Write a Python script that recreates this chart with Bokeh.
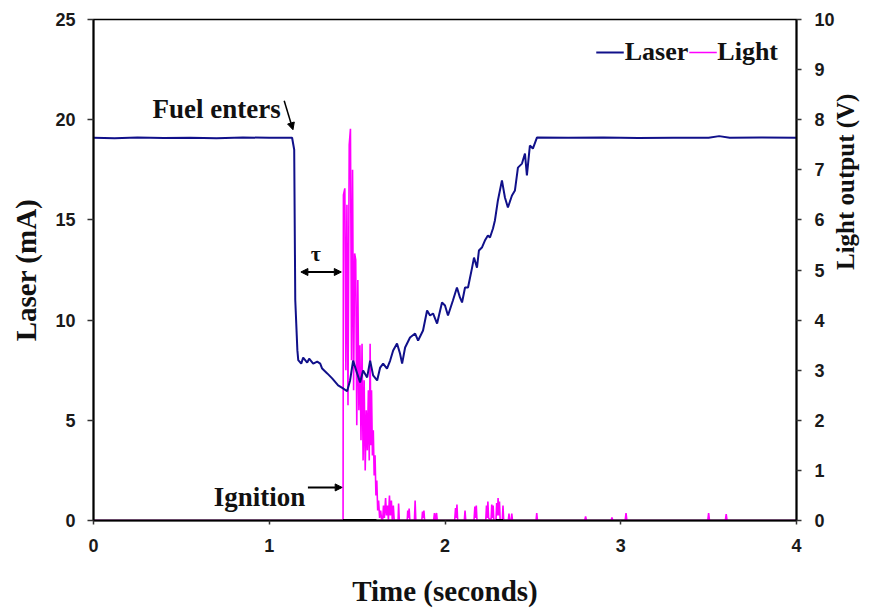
import math
from bokeh.plotting import figure
from bokeh.models import (Range1d, LinearAxis, Label, Arrow, NormalHead, Legend,
                          LegendItem, FixedTicker)
from bokeh.embed import file_html
from bokeh.resources import INLINE

# ---------------- data ----------------
laser_t = [0.0, 0.12, 0.25, 0.4, 0.55, 0.7, 0.85, 1.0, 1.13, 1.142, 1.148, 1.16, 1.165,
           1.182, 1.193, 1.216, 1.227, 1.25, 1.273, 1.29, 1.301, 1.33, 1.358, 1.392, 1.42,
           1.443, 1.46, 1.477, 1.5, 1.517, 1.534, 1.557, 1.574, 1.591, 1.614, 1.631, 1.648,
           1.67, 1.688, 1.705, 1.727, 1.744, 1.756, 1.773, 1.801, 1.83, 1.847, 1.875, 1.898,
           1.915, 1.932, 1.955, 1.983, 2.0, 2.017, 2.045, 2.068, 2.085, 2.097, 2.114, 2.131,
           2.153, 2.165, 2.182, 2.193, 2.21, 2.227, 2.244, 2.256, 2.273, 2.284, 2.301, 2.324,
           2.341, 2.358, 2.381, 2.398, 2.415, 2.438, 2.455, 2.466, 2.483, 2.5, 2.523, 2.7,
           2.9, 3.1, 3.3, 3.5, 3.56, 3.62, 3.8, 4.0]
laser_ma = [19.1, 19.08, 19.11, 19.09, 19.1, 19.08, 19.11, 19.1, 19.1, 18.5, 11.0, 8.5, 8.0,
            7.83, 8.13, 7.88, 8.08, 7.83, 7.93, 7.83, 7.58, 7.34, 7.09, 6.74, 6.59,
            6.45, 6.99, 7.98, 7.34, 6.89, 7.49, 7.14, 7.98, 7.24, 6.99, 7.63, 7.83,
            7.58, 7.98, 8.48, 8.83, 8.33, 7.83, 8.63, 9.13, 9.33, 8.98, 9.48, 10.48,
            10.23, 10.33, 9.83, 10.88, 10.73, 10.23, 10.98, 11.63, 11.13, 10.88, 11.63, 11.63,
            12.57, 13.12, 12.62, 13.47, 13.62, 13.97, 14.22, 14.12, 14.57, 14.97, 15.97, 16.97,
            16.12, 15.62, 16.22, 16.47, 17.61, 17.81, 18.31, 17.22, 18.71, 18.56, 19.11, 19.1,
            19.11, 19.09, 19.1, 19.1, 19.18, 19.1, 19.11, 19.1]

light_t = [0.0, 1.42, 1.422, 1.43, 1.436, 1.442, 1.448, 1.455, 1.462, 1.468, 1.474, 1.48,
           1.486, 1.492, 1.498, 1.504, 1.51, 1.516, 1.522, 1.528, 1.534, 1.54, 1.546, 1.552,
           1.558, 1.564, 1.569, 1.574, 1.578, 1.582, 1.587, 1.592, 1.597, 1.602, 1.607,
           1.612, 1.617, 1.622, 1.628, 1.634, 1.64,
           1.645, 1.65, 1.655, 1.662, 1.667, 1.673, 1.678, 1.684, 1.689, 1.695, 1.7, 1.706,
           1.711, 1.733, 1.736, 1.74, 1.785, 1.788, 1.792, 1.796, 1.8, 1.826, 1.83, 1.834,
           1.868, 1.872, 1.876, 1.88, 1.884, 1.935, 1.94, 1.945, 1.952, 1.956, 2.055, 2.06,
           2.064, 2.068, 2.072, 2.11, 2.114, 2.118, 2.165, 2.17, 2.174, 2.178, 2.182, 2.232,
           2.236, 2.24, 2.244, 2.248, 2.262, 2.266, 2.27, 2.274, 2.278, 2.29, 2.294, 2.298,
           2.302, 2.306, 2.31, 2.314, 2.326, 2.33, 2.334, 2.36, 2.364, 2.368, 2.376, 2.38,
           2.384, 2.518, 2.522, 2.526, 2.795, 2.8, 2.805, 2.945, 2.95, 2.955, 3.025, 3.03,
           3.035, 3.495, 3.5, 3.505, 3.595, 3.6, 3.605, 4.0]
light_v = [0.0, 0.0, 6.5, 6.63, 3.0, 6.3, 2.3, 7.5, 7.82, 3.2, 7.0, 2.6,
           5.33, 5.2, 1.9, 4.8, 2.2, 3.5, 1.6, 3.53, 1.2, 2.8, 1.0, 2.2,
           1.4, 2.6, 1.2, 3.53, 1.5, 2.6, 1.3, 1.8, 0.9, 1.3, 0.5,
           0.8, 0.2, 0.4, 0.05, 0.2, 0.0,
           0.0, 0.3, 0.05, 0.45, 0.1, 0.3, 0.0, 0.5, 0.1, 0.4, 0.0, 0.3,
           0.0, 0.0, 0.34, 0.0, 0.0, 0.2, 0.05, 0.24, 0.0, 0.0, 0.4, 0.0,
           0.0, 0.18, 0.05, 0.2, 0.0, 0.0, 0.15, 0.0, 0.15, 0.0, 0.0, 0.25,
           0.05, 0.32, 0.0, 0.0, 0.2, 0.0, 0.0, 0.28, 0.05, 0.3, 0.0, 0.0,
           0.3, 0.05, 0.38, 0.05, 0.0, 0.32, 0.05, 0.3, 0.0, 0.0, 0.35, 0.1,
           0.45, 0.1, 0.38, 0.0, 0.0, 0.3, 0.0, 0.0, 0.14, 0.0, 0.0, 0.14,
           0.0, 0.0, 0.15, 0.0, 0.0, 0.08, 0.0, 0.0, 0.06, 0.0, 0.0, 0.15,
           0.0, 0.0, 0.15, 0.0, 0.0, 0.13, 0.0, 0.0]

base_t = [1.42, 1.61, None, 2.29, 2.33]
base_v = [0.0, 0.0, None, 0.0, 0.0]

x_ticks = [0, 1, 2, 3, 4]
laser_ticks = [0, 5, 10, 15, 20, 25]
light_ticks = [0, 1, 2, 3, 4, 5, 6, 7, 8, 9, 10]

# annotation anchors (data units)
fuel_t, fuel_ma = 1.135, 19.3
ign_t, ign_ma = 1.415, 1.65
tau_t0, tau_t1, tau_ma = 1.18, 1.41, 12.4

SERIF = "Liberation Serif"
SANS = "Liberation Sans"

p = figure(width=875, height=614, output_backend="svg", toolbar_location=None,
           x_range=Range1d(0, 4), y_range=Range1d(0, 25),
           min_border_left=93, min_border_right=78, min_border_top=19, min_border_bottom=94)
p.extra_y_ranges = {"light": Range1d(0, 10)}
p.grid.visible = False
p.outline_line_color = "black"
p.outline_line_width = 1.5
p.background_fill_color = "white"
p.border_fill_color = "white"

nan_safe_t = [float("nan") if v is None else v for v in base_t]
nan_safe_v = [float("nan") if v is None else v for v in base_v]

r_light = p.line(light_t, light_v, y_range_name="light", line_color="#ff00ff", line_width=1.6)
p.line(nan_safe_t, nan_safe_v, y_range_name="light", line_color="black", line_width=3)
r_laser = p.line(laser_t, laser_ma, line_color="#10108a", line_width=2)

# axes
def style_axis(ax):
    ax.axis_line_color = "black"
    ax.axis_line_width = 2
    ax.major_tick_line_color = "#333333"
    ax.major_tick_line_width = 1.5
    ax.minor_tick_line_color = None
    ax.major_label_text_font = SANS
    ax.major_label_text_font_style = "bold"
    ax.major_label_text_font_size = "18px"
    ax.major_label_text_color = "#1a1a1a"
    ax.axis_label_text_font = SERIF
    ax.axis_label_text_font_style = "bold"
    ax.axis_label_text_font_size = "29px"
    ax.axis_label_text_color = "#111111"

xa = p.xaxis[0]
style_axis(xa)
xa.ticker = FixedTicker(ticks=x_ticks)
xa.major_tick_in = 0
xa.major_tick_out = 4
xa.major_label_standoff = 14
xa.axis_label = "Time (seconds)"
xa.axis_label_standoff = 20

ya = p.yaxis[0]
style_axis(ya)
ya.ticker = FixedTicker(ticks=laser_ticks)
ya.major_tick_in = 0
ya.major_tick_out = 6
ya.major_label_standoff = 12
ya.axis_label = "Laser (mA)"
ya.axis_label_standoff = 10

ra = LinearAxis(y_range_name="light")
style_axis(ra)
ra.ticker = FixedTicker(ticks=light_ticks)
ra.major_tick_in = 0
ra.major_tick_out = 5
ra.major_label_standoff = 13
ra.axis_label = "Light output (V)"
ra.axis_label_text_font_size = "25px"
ra.axis_label_standoff = 8
ra.axis_label_orientation = math.pi / 2
p.add_layout(ra, "right")

# annotations
p.add_layout(Label(x=fuel_t - 0.07, y=fuel_ma + 1.25, text="Fuel enters", text_font=SERIF,
                   text_font_style="bold", text_font_size="27px", text_align="right",
                   text_baseline="middle", text_color="#111111"))
p.add_layout(Arrow(end=NormalHead(size=7, fill_color="black", line_color="black"),
                   x_start=fuel_t - 0.05, y_start=fuel_ma + 1.65, x_end=fuel_t, y_end=fuel_ma + 0.2,
                   line_color="black", line_width=1.5))

p.add_layout(Label(x=(tau_t0 + tau_t1) / 2 - 0.03, y=tau_ma + 0.9, text="τ", text_font=SERIF,
                   text_font_style="bold", text_font_size="22px", text_align="center",
                   text_baseline="middle", text_color="#111111"))
p.add_layout(Arrow(start=NormalHead(size=7, fill_color="black", line_color="black"),
                   end=NormalHead(size=7, fill_color="black", line_color="black"),
                   x_start=tau_t0, y_start=tau_ma, x_end=tau_t1, y_end=tau_ma,
                   line_color="black", line_width=2))

p.add_layout(Label(x=ign_t - 0.21, y=ign_ma - 0.5, text="Ignition", text_font=SERIF,
                   text_font_style="bold", text_font_size="27px", text_align="right",
                   text_baseline="middle", text_color="#111111"))
p.add_layout(Arrow(end=NormalHead(size=7, fill_color="black", line_color="black"),
                   x_start=ign_t - 0.195, y_start=ign_ma, x_end=ign_t, y_end=ign_ma,
                   line_color="black", line_width=2))

legend = Legend(items=[LegendItem(label="Laser", renderers=[r_laser]),
                       LegendItem(label="Light", renderers=[r_light])],
                orientation="horizontal", location="top_right")
legend.border_line_color = None
legend.background_fill_alpha = 0
legend.label_text_font = SERIF
legend.label_text_font_style = "bold"
legend.label_text_font_size = "26px"
legend.label_text_color = "#111111"
legend.glyph_width = 28
legend.label_standoff = 1
legend.spacing = 0
legend.padding = 4
legend.margin = 18
p.add_layout(legend)

open("out.html", "w").write(file_html(p, INLINE))
